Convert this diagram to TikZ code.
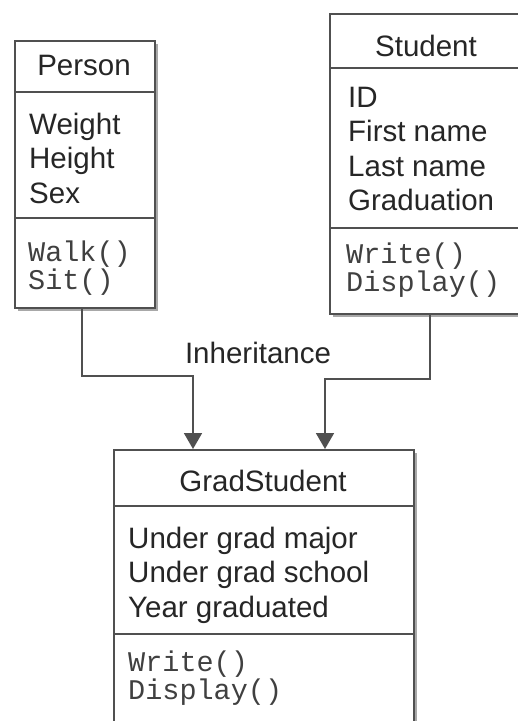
\documentclass[tikz,border=0pt]{standalone}
\usepackage{fontspec}
\setmainfont{Liberation Sans}
\setmonofont{Liberation Mono}
\usetikzlibrary{arrows.meta,shadows}
\definecolor{linec}{HTML}{505050}
\definecolor{txtc}{HTML}{262626}
\definecolor{monoc}{HTML}{404040}
\definecolor{shadc}{HTML}{A8A8A8}
\begin{document}
\begin{tikzpicture}[x=1pt,y=-1pt,
  classbox/.style={draw=linec, line width=1.8pt, fill=white, rectangle, inner sep=0pt, anchor=north west,
    drop shadow={shadow xshift=3pt, shadow yshift=-3pt, fill=shadc, draw=none, opacity=1}},
  divider/.style={draw=linec, line width=1.8pt},
  titletext/.style={font=\fontsize{29.5}{34.5}\selectfont, text=txtc, inner sep=0pt},
  attrs/.style={font=\fontsize{29.5}{34.5}\selectfont, text=txtc, align=left, anchor=west, inner sep=0pt},
  meths/.style={font=\ttfamily\fontsize{28.5}{28}\selectfont, text=monoc, align=left, anchor=west, inner sep=0pt},
  inh/.style={draw=linec, line width=1.8pt, -{Triangle[length=16pt,width=18pt]}}]
\useasboundingbox (0,0) rectangle (518,721);
\clip (0,0) rectangle (518,721);
\fill[white] (0,0) rectangle (518,721);

% Person
\node[classbox, minimum width=140pt, minimum height=267pt] (person) at (14,40) {};
\draw[divider] ([yshift=-52pt]person.north west) -- ([yshift=-52pt]person.north east);
\draw[divider] ([yshift=-178pt]person.north west) -- ([yshift=-178pt]person.north east);
\node[titletext] (personname) at (84,65) {Person};
\node[attrs] (personattrs) at (29,158) {Weight\\Height\\Sex};
\node[meths] (personmeths) at (28,268) {Walk()\\Sit()};

% Student
\node[classbox, minimum width=194pt, minimum height=300pt] (student) at (329,13) {};
\draw[divider] ([yshift=-55pt]student.north west) -- ([yshift=-55pt]student.north east);
\draw[divider] ([yshift=-215pt]student.north west) -- ([yshift=-215pt]student.north east);
\node[titletext] (studentname) at (426,46) {Student};
\node[attrs] (studentattrs) at (348,149) {ID\\First name\\Last name\\Graduation};
\node[meths] (studentmeths) at (346,270) {Write()\\Display()};

% GradStudent
\node[classbox, minimum width=300pt, minimum height=300pt] (grad) at (113,449) {};
\draw[divider] ([yshift=-57pt]grad.north west) -- ([yshift=-57pt]grad.north east);
\draw[divider] ([yshift=-185pt]grad.north west) -- ([yshift=-185pt]grad.north east);
\node[titletext] (gradname) at (263,481) {GradStudent};
\node[attrs] (gradattrs) at (128,575) {Under grad major\\Under grad school\\Year graduated};
\node[meths] (gradmeths) at (128,678) {Write()\\Display()};

% Inheritance
\node[titletext] (inhlabel) at (258,353) {Inheritance};
\draw[inh] ([xshift=68pt]person.south west) -- ++(0,67) -| ([xshift=80pt]grad.north west);
\draw[inh] ([xshift=101pt]student.south west) -- ++(0,64) -| ([xshift=212pt]grad.north west);
\end{tikzpicture}
\end{document}
